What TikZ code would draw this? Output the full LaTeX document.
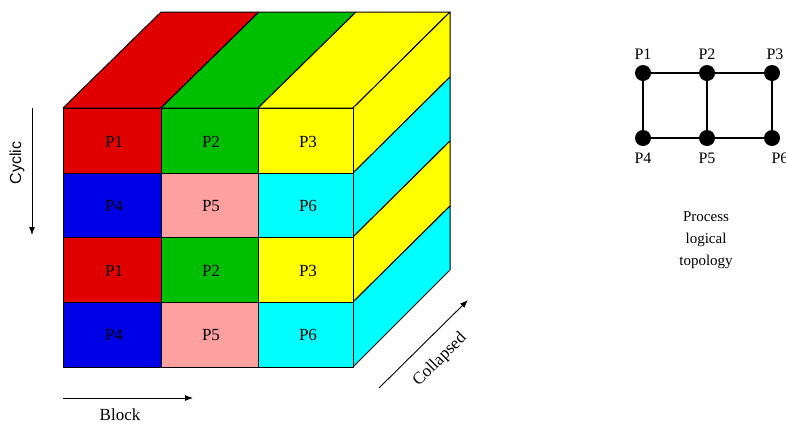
\documentclass[tikz,border=0pt]{standalone}
\usepackage{fontspec}
\setmainfont{Liberation Serif}
\newfontfamily\labsans{Liberation Sans}
\usetikzlibrary{arrows.meta}
\definecolor{cred}{RGB}{225,0,0}
\definecolor{cgreen}{RGB}{0,190,0}
\definecolor{cyellow}{RGB}{255,255,0}
\definecolor{cblue}{RGB}{0,0,230}
\definecolor{cpink}{RGB}{255,160,160}
\definecolor{ccyan}{RGB}{0,255,255}
\tikzset{
  face/.style={draw=black, line width=1pt, line join=round},
  celltext/.style={font=\fontsize{17}{19}\selectfont, inner sep=0pt},
  axisarrow/.style={draw=black, line width=0.9pt, -{Latex[length=8pt,width=6pt]}},
  axislabel/.style={font=\fontsize{17}{19}\selectfont, inner sep=0pt},
  proc/.style={circle, fill=black, minimum size=16pt, inner sep=0pt},
  proclabel/.style={font=\fontsize{16}{18}\selectfont, inner sep=0pt},
  link/.style={draw=black, line width=1.1pt}
}
\begin{document}
\begin{tikzpicture}[x=1pt,y=-1pt]
\useasboundingbox (0,0) rectangle (786,424);
% ---- cube: top face
\filldraw[face, fill=cred]    (63,108) -- (161,108) -- (259,12) -- (161,12) -- cycle;
\filldraw[face, fill=cgreen]  (161,108) -- (258,108) -- (356,12) -- (259,12) -- cycle;
\filldraw[face, fill=cyellow] (258,108) -- (353,108) -- (450,12) -- (356,12) -- cycle;
% ---- cube: right face stripes
\filldraw[face, fill=cyellow] (353,108) -- (450,12) -- (450,77) -- (353,173) -- cycle;
\filldraw[face, fill=ccyan]   (353,173) -- (450,77) -- (450,141) -- (353,237) -- cycle;
\filldraw[face, fill=cyellow] (353,237) -- (450,141) -- (450,206) -- (353,302) -- cycle;
\filldraw[face, fill=ccyan]   (353,302) -- (450,206) -- (450,270) -- (353,367) -- cycle;
% ---- cube: front face cells
\filldraw[face, fill=cred]    (63,108) rectangle (161,173);
\filldraw[face, fill=cgreen]  (161,108) rectangle (258,173);
\filldraw[face, fill=cyellow] (258,108) rectangle (353,173);
\filldraw[face, fill=cblue]   (63,173) rectangle (161,237);
\filldraw[face, fill=cpink]   (161,173) rectangle (258,237);
\filldraw[face, fill=ccyan]   (258,173) rectangle (353,237);
\filldraw[face, fill=cred]    (63,237) rectangle (161,302);
\filldraw[face, fill=cgreen]  (161,237) rectangle (258,302);
\filldraw[face, fill=cyellow] (258,237) rectangle (353,302);
\filldraw[face, fill=cblue]   (63,302) rectangle (161,367);
\filldraw[face, fill=cpink]   (161,302) rectangle (258,367);
\filldraw[face, fill=ccyan]   (258,302) rectangle (353,367);
% ---- cell texts
\node[celltext] (c11) at (114,142) {P1};
\node[celltext] (c12) at (211,142) {P2};
\node[celltext] (c13) at (308,142) {P3};
\node[celltext] (c21) at (114,206) {P4};
\node[celltext] (c22) at (211,206) {P5};
\node[celltext] (c23) at (308,206) {P6};
\node[celltext] (c31) at (114,271) {P1};
\node[celltext] (c32) at (211,271) {P2};
\node[celltext] (c33) at (308,271) {P3};
\node[celltext] (c41) at (114,335) {P4};
\node[celltext] (c42) at (211,335) {P5};
\node[celltext] (c43) at (308,335) {P6};
% ---- axes
\coordinate (cyS) at (32,108);
\coordinate (cyE) at (32,235);
\draw[axisarrow] (cyS) -- (cyE);
\node[axislabel, rotate=90, font=\labsans\fontsize{16}{18}\selectfont] (cyclic) at (17,163) {Cyclic};
\coordinate (blS) at (63,398);
\coordinate (blE) at (193,398);
\draw[axisarrow] (blS) -- (blE);
\node[axislabel] (block) at (120,415) {Block};
\coordinate (coS) at (379,388);
\coordinate (coE) at (468,300);
\draw[axisarrow] (coS) -- (coE);
\node[axislabel, rotate=45] (collapsed) at (440,360) {Collapsed};
% ---- process logical topology
\node[proc] (p1) at (643,73) {};
\node[proc] (p2) at (707,73) {};
\node[proc] (p3) at (772,73) {};
\node[proc] (p4) at (643,138) {};
\node[proc] (p5) at (707,138) {};
\node[proc] (p6) at (772,138) {};
\draw[link] (p1) -- (p2);
\draw[link] (p2) -- (p3);
\draw[link] (p4) -- (p5);
\draw[link] (p5) -- (p6);
\draw[link] (p1) -- (p4);
\draw[link] (p2) -- (p5);
\draw[link] (p3) -- (p6);
\node[proclabel] (l1) at (643,54) {P1};
\node[proclabel] (l2) at (707,54) {P2};
\node[proclabel] (l3) at (775,54) {P3};
\node[proclabel] (l4) at (643,158) {P4};
\node[proclabel] (l5) at (707,158) {P5};
\node[proclabel] (l6) at (780,158) {P6};
\node[proclabel, align=center, font=\fontsize{15}{22}\selectfont] (title) at (706,240) {Process\\logical\\topology};
\end{tikzpicture}
\end{document}
